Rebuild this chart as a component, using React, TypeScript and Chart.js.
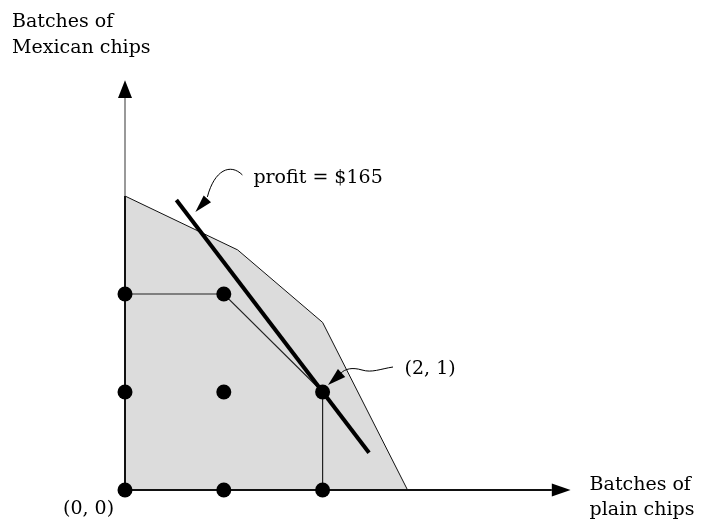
import React, { useEffect, useRef } from 'react';
import { Chart, registerables } from 'chart.js';

Chart.register(...registerables);

// Integer lattice points
const latticeX = [0, 1, 2, 0, 1, 2, 0, 1];
const latticeY = [0, 0, 0, 1, 1, 1, 2, 2];

// Feasible region vertices
const regionX = [0, 0, 1.14, 2, 2.86];
const regionY = [0, 3.0, 2.45, 1.71, 0];

// Path along lattice points
const pathX = [0, 1, 2, 2];
const pathY = [2, 2, 1, 0];

// Profit line
const profitX = [0.52, 2.47];
const profitY = [2.96, 0.38];

// Axes
const xAxisEnd = 4.32;
const xArrowTip = 4.51;
const regionTop = 3.0;
const yAxisEnd = 4.0;
const yArrowTip = 4.18;

// Texts
const yAxisTitle = ['Batches of', 'Mexican chips'];
const xAxisTitle = ['Batches of', 'plain chips'];
const profitLabel = 'profit = $165';
const optimumLabel = '(2, 1)';
const originLabel = '(0, 0)';
const optimumX = 2;
const optimumY = 1;

const FONT = '19px "DejaVu Serif"';

const pts = (xs: number[], ys: number[]) => xs.map((x, i) => ({ x, y: ys[i] }));

function arrowHead(ctx: CanvasRenderingContext2D, bx: number, by: number, tx: number, ty: number, hw: number) {
  const dx = tx - bx;
  const dy = ty - by;
  const len = Math.hypot(dx, dy);
  const nx = -dy / len;
  const ny = dx / len;
  ctx.beginPath();
  ctx.moveTo(tx, ty);
  ctx.lineTo(bx + nx * hw, by + ny * hw);
  ctx.lineTo(bx - nx * hw, by - ny * hw);
  ctx.closePath();
  ctx.fill();
}

const annotations = {
  id: 'annotations',
  afterDatasetsDraw(chart: any) {
    const ctx: CanvasRenderingContext2D = chart.ctx;
    const xs = chart.scales.x;
    const ys = chart.scales.y;
    const px = (v: number) => xs.getPixelForValue(v);
    const py = (v: number) => ys.getPixelForValue(v);
    ctx.save();
    ctx.fillStyle = '#000';
    ctx.strokeStyle = '#000';

    // axis arrowheads
    const y0 = py(0);
    const x0 = px(0);
    arrowHead(ctx, px(xAxisEnd), y0, px(xArrowTip), y0, 6.5);
    arrowHead(ctx, x0, py(yAxisEnd), x0, py(yArrowTip), 7);

    // texts
    ctx.font = FONT;
    ctx.fillStyle = '#000';
    ctx.textBaseline = 'alphabetic';
    ctx.textAlign = 'left';
    const yTip = py(yArrowTip);
    ctx.fillText(yAxisTitle[0], x0 - 113, yTip - 53);
    ctx.fillText(yAxisTitle[1], x0 - 113, yTip - 27);
    const xTip = px(xArrowTip);
    ctx.fillText(xAxisTitle[0], xTip + 19, y0);
    ctx.fillText(xAxisTitle[1], xTip + 19, y0 + 25);
    ctx.fillText(originLabel, x0 - 62, y0 + 24);

    // profit label + curved arrow
    const P = { x: px(profitX[0]), y: py(profitY[0]) };
    ctx.fillText(profitLabel, P.x + 77, P.y - 17);
    ctx.lineWidth = 1;
    ctx.beginPath();
    ctx.moveTo(P.x + 66, P.y - 25);
    ctx.bezierCurveTo(P.x + 54, P.y - 37, P.x + 38, P.y - 30, P.x + 31, P.y - 3);
    ctx.stroke();
    arrowHead(ctx, P.x + 31, P.y - 1, P.x + 19, P.y + 12, 5);

    // optimum label + wavy arrow
    const D = { x: px(optimumX), y: py(optimumY) };
    ctx.fillText(optimumLabel, D.x + 82, D.y - 18);
    ctx.beginPath();
    ctx.moveTo(D.x + 70.4, D.y - 25);
    ctx.bezierCurveTo(D.x + 57.4, D.y - 23, D.x + 49.4, D.y - 19, D.x + 39.4, D.y - 22);
    ctx.bezierCurveTo(D.x + 29.4, D.y - 25, D.x + 22.4, D.y - 23, D.x + 18.5, D.y - 19);
    ctx.stroke();
    arrowHead(ctx, D.x + 19, D.y - 19, D.x + 5.4, D.y - 7, 5.5);
    ctx.restore();
  },
};

export default function App() {
  const ref = useRef<HTMLCanvasElement | null>(null);
  useEffect(() => {
    if (!ref.current) return;
    const lineDs = (data: any, color: string, width: number, order: number, extra: any = {}) => ({
      data,
      borderColor: color,
      borderWidth: width,
      pointRadius: 0,
      pointHoverRadius: 0,
      fill: false,
      tension: 0,
      clip: false,
      order,
      ...extra,
    });
    const chart = new Chart(ref.current, {
      type: 'line',
      data: {
        datasets: [
          {
            data: pts(latticeX, latticeY),
            showLine: false,
            pointRadius: 7.5,
            pointHoverRadius: 7.5,
            pointBackgroundColor: '#000',
            pointBorderWidth: 0,
            borderColor: '#000',
            clip: false,
            order: 0,
          } as any,
          lineDs(pts(profitX, profitY), '#000', 4, 1),
          lineDs(pts([0, 0], [0, regionTop]), '#111', 2, 2),
          lineDs(pts([0, 0], [regionTop, yAxisEnd]), '#777', 1.5, 3),
          lineDs(pts([0, xAxisEnd], [0, 0]), '#111', 2, 4),
          lineDs(pts(pathX, pathY), '#222', 1.2, 5),
          lineDs(pts(regionX, regionY), '#111', 1, 6, { fill: 'origin', backgroundColor: '#dcdcdc' }),
        ],
      },
      options: {
        responsive: false,
        animation: false,
        events: [],
        layout: { padding: { left: 125, right: 82, top: 98, bottom: 32 } },
        scales: {
          x: { type: 'linear', min: 0, max: 5, display: false },
          y: { type: 'linear', min: 0, max: 4, display: false },
        },
        plugins: { legend: { display: false }, tooltip: { enabled: false } },
      },
      plugins: [annotations],
    });
    return () => chart.destroy();
  }, []);
  return (
    <div style={{ position: 'absolute', left: 0, top: 0, width: 701, height: 522 }}>
      <canvas ref={ref} width={701} height={522} style={{ display: 'block' }} />
    </div>
  );
}
